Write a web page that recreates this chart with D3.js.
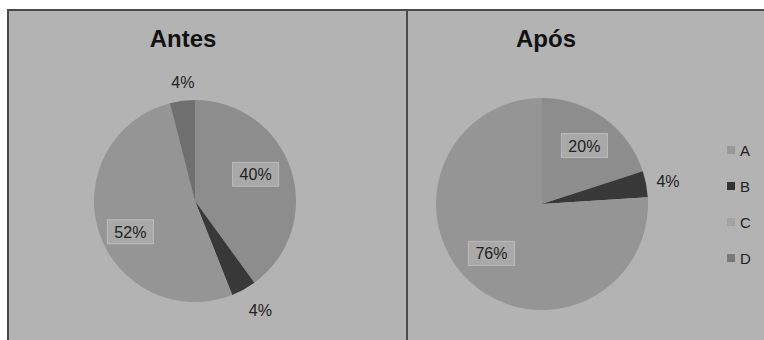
<!DOCTYPE html>
<head>
<meta charset="utf-8">
<script src="https://d3js.org/d3.v7.min.js"></script>
<style>
body {
	margin: 0;
	background: #fff;
}
text {
	font-family: "Liberation Sans", Arial, sans-serif;
}
.title {
	font-weight: bold;
	font-size: 24px;
	fill: #111;
}
.lbl {
	font-size: 16px;
	fill: #222;
}
</style>
</head>
<body>
<svg id="chart" width="764" height="340"></svg>
<script>

var categories = ["A", "B", "C", "D"];
var antes = [40, 4, 52, 4];
var apos = [20, 4, 76, 0];
var titles = ["Antes", "Após"];
var colors = ["#8d8d8d", "#383838", "#959595", "#6f6f6f"];
var legendColors = ["#999999", "#333333", "#a3a3a3", "#787878"];

var svg = d3.select("#chart");

// frame
svg.append("rect")
	.attr("x", 8).attr("y", 10)
	.attr("width", 770).attr("height", 350)
	.attr("fill", "#b3b3b3")
	.attr("stroke", "#4a4a4a")
	.attr("stroke-width", 2);

svg.append("line")
	.attr("x1", 407).attr("x2", 407)
	.attr("y1", 10).attr("y2", 340)
	.attr("stroke", "#4a4a4a")
	.attr("stroke-width", 2);

var pie = d3.pie().sort(null).value(d => d);

// label placement: inside = boxed, outside = plain; nudge = excel-ish best fit
var panels = [
	{title: titles[0], data: antes, cx: 195, cy: 201, r: 101, tx: 183,
		inside: [true, false, true, false],
		nudge: [[3, -8], [7, 3], [-7, 12], [3, 1]]},
	{title: titles[1], data: apos, cx: 542, cy: 204, r: 106, tx: 546,
		inside: [true, false, true, false],
		nudge: [[5, -7], [1, 1], [-7, 3], [0, 0]]}
];

panels.forEach(function(p) {
	svg.append("text")
		.attr("class", "title")
		.attr("x", p.tx).attr("y", 47)
		.attr("text-anchor", "middle")
		.text(p.title);

	var g = svg.append("g")
		.attr("transform", "translate(" + p.cx + "," + p.cy + ")");

	var arc = d3.arc().innerRadius(0).outerRadius(p.r);
	var arcsIn = d3.arc().innerRadius(p.r * 0.6).outerRadius(p.r * 0.6);
	var arcsOut = d3.arc().innerRadius(p.r * 1.2).outerRadius(p.r * 1.2);

	var arcs = pie(p.data);

	g.selectAll("path")
		.data(arcs)
		.enter().append("path")
		.attr("d", arc)
		.attr("fill", (d, i) => colors[i]);

	arcs.forEach(function(d, i) {
		if (d.data === 0) return;
		var c = p.inside[i] ? arcsIn.centroid(d) : arcsOut.centroid(d);
		c = [c[0] + p.nudge[i][0], c[1] + p.nudge[i][1]];
		var txt = d.data + "%";
		if (p.inside[i]) {
			g.append("rect")
				.attr("x", c[0] - 23).attr("y", c[1] - 12)
				.attr("width", 46).attr("height", 24)
				.attr("fill", "#a9a9a9")
				.attr("stroke", "#bcbcbc")
				.attr("stroke-width", 1);
		}
		g.append("text")
			.attr("class", "lbl")
			.attr("x", c[0]).attr("y", c[1] + 6)
			.attr("text-anchor", "middle")
			.text(txt);
	});
});

// legend
var leg = svg.append("g").attr("transform", "translate(727,151)");
categories.forEach(function(c, i) {
	var row = leg.append("g").attr("transform", "translate(0," + (i * 36) + ")");
	row.append("rect")
		.attr("x", 0).attr("y", -5)
		.attr("width", 8).attr("height", 8)
		.attr("fill", legendColors[i]);
	row.append("text")
		.attr("class", "lbl")
		.attr("x", 13).attr("y", 5)
		.style("font-size", "15px")
		.text(c);
});

</script>
</body>
